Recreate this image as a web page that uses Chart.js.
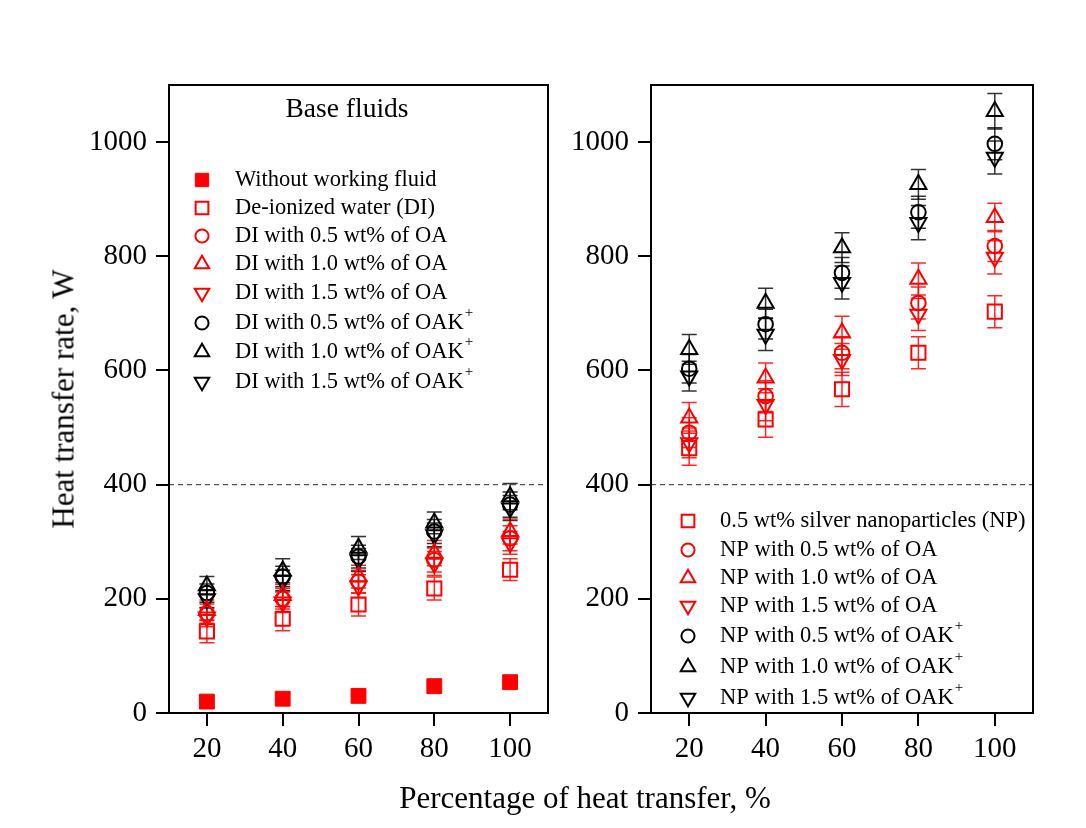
<!DOCTYPE html>
<html><head><meta charset="utf-8">
<script src="https://cdn.jsdelivr.net/npm/chart.js@4.4.0/dist/chart.umd.min.js"></script>
<style>
html,body{margin:0;padding:0;background:#fff;width:1086px;height:828px;overflow:hidden;position:relative;}
canvas{position:absolute;top:0;}
#c1{left:0;}
#c2{left:560px;}
.t{position:absolute;font-family:"Liberation Serif","Times New Roman",serif;color:#000;white-space:nowrap;font-size:31px;line-height:1;}
#xt{left:585px;top:797px;transform:translate(-50%,-50%);}
#yt{left:63px;top:399px;transform:translate(-50%,-50%) rotate(-90deg);}
</style></head><body>
<canvas id="c1" width="560" height="828"></canvas>
<canvas id="c2" width="526" height="828"></canvas>
<div class="t" id="xt">Percentage of heat transfer, %</div>
<div class="t" id="yt">Heat transfer rate, W</div>
<script>
// ---------- data ----------
const xValues = [20, 40, 60, 80, 100];
const xTicks = [20, 40, 60, 80, 100];
const yTicks = [0, 200, 400, 600, 800, 1000];
const referenceLine = 400;

// Left panel: base fluids
const withoutFluid = [20, 25, 30, 47, 54];
const diWater      = [143, 165, 190, 218, 251];
const diOA05       = [174, 200, 230, 268, 306];
const diOA10       = [180, 206, 239, 280, 318];
const diOA15       = [168, 194, 222, 262, 298];
const diOAK05      = [210, 239, 274, 318, 365];
const diOAK10      = [223, 249, 289, 333, 379];
const diOAK15      = [200, 232, 268, 312, 359];
const errDiWater   = [20, 21, 20, 20, 19];
const errDiOA05    = [17, 18, 20, 21, 22];
const errDiOA10    = [18, 19, 20, 22, 22];
const errDiOA15    = [17, 18, 20, 21, 20];
const errDiOAK05   = [16, 18, 20, 21, 22];
const errDiOAK10   = [16, 21, 20, 19, 23];
const errDiOAK15   = [16, 18, 20, 21, 22];

// Right panel: silver nanoparticles
const np       = [464, 514, 567, 631, 703];
const npOA05   = [491, 555, 631, 718, 818];
const npOA10   = [517, 587, 666, 760, 868];
const npOA15   = [473, 540, 619, 698, 798];
const npOAK05  = [603, 681, 771, 877, 997];
const npOAK10  = [637, 718, 815, 926, 1054];
const npOAK15  = [590, 663, 754, 859, 973];
const errNp      = [30, 31, 30, 28, 28];
const errNpOA05  = [26, 27, 28, 28, 27];
const errNpOA10  = [27, 26, 29, 28, 25];
const errNpOA15  = [26, 28, 28, 28, 29];
const errNpOAK05 = [25, 26, 27, 28, 28];
const errNpOAK10 = [26, 26, 26, 26, 31];
const errNpOAK15 = [26, 28, 29, 30, 29];

const leftLabels = ["Without working fluid", "De-ionized water (DI)", "DI with 0.5 wt% of OA",
  "DI with 1.0 wt% of OA", "DI with 1.5 wt% of OA", "DI with 0.5 wt% of OAK⁺",
  "DI with 1.0 wt% of OAK⁺", "DI with 1.5 wt% of OAK⁺"];
const rightLabels = ["0.5 wt% silver nanoparticles (NP)", "NP with 0.5 wt% of OA",
  "NP with 1.0 wt% of OA", "NP with 1.5 wt% of OA", "NP with 0.5 wt% of OAK⁺",
  "NP with 1.0 wt% of OAK⁺", "NP with 1.5 wt% of OAK⁺"];
const leftTitle = "Base fluids";

// ---------- styling ----------
const FONT = "'Liberation Serif','Times New Roman',serif";
const RED = '#ff0000', BLACK = '#000000';
const SHAPES = {
  fsquare: {pointStyle:'rect', radius:10.5, rotation:0, filled:true},
  square:  {pointStyle:'rect', radius:10, rotation:0, filled:false},
  circle:  {pointStyle:'circle', radius:7.3, rotation:0, filled:false},
  up:      {pointStyle:'triangle', radius:9.3, rotation:0, filled:false},
  down:    {pointStyle:'triangle', radius:9.3, rotation:180, filled:false}
};

function series(label, values, errors, color, shape) {
  const s = SHAPES[shape];
  return {
    type:'scatter', label,
    data: xValues.map((x, i) => ({x, y: values[i]})),
    errors, errorColor: color === RED ? 'rgba(255,0,0,0.85)' : 'rgba(0,0,0,0.8)',
    pointStyle: s.pointStyle, pointRadius: s.radius, pointRotation: s.rotation,
    pointBorderColor: color, pointBackgroundColor: s.filled ? color : 'rgba(0,0,0,0)',
    pointBorderWidth: s.filled ? 1 : 2, showLine:false, inLegend:true,
    shape, color
  };
}
function refLine() {
  return {type:'line', label:'ref', data:[{x:10,y:referenceLine},{x:110,y:referenceLine}],
    borderColor:'#555', borderWidth:1.3, borderDash:[5,4], pointRadius:0, inLegend:false, order:100};
}

function drawMarker(ctx, shape, color, x, y, scale) {
  const s = SHAPES[shape];
  const r = s.radius * scale;
  ctx.save();
  ctx.strokeStyle = color; ctx.fillStyle = color; ctx.lineWidth = s.filled ? 1 : 2;
  ctx.beginPath();
  if (s.pointStyle === 'rect') {
    const h = Math.SQRT1_2 * r;
    ctx.rect(x - h, y - h, 2*h, 2*h);
  } else if (s.pointStyle === 'circle') {
    ctx.arc(x, y, r, 0, Math.PI*2);
  } else {
    let rad = s.rotation * Math.PI / 180;
    for (let k = 0; k < 3; k++) {
      const px = x + Math.sin(rad) * r, py = y - Math.cos(rad) * r;
      if (k === 0) ctx.moveTo(px, py); else ctx.lineTo(px, py);
      rad += 2*Math.PI/3;
    }
    ctx.closePath();
  }
  if (s.filled) ctx.fill();
  ctx.stroke();
  ctx.restore();
}

const errorBarPlugin = {
  id:'errorBars',
  beforeDatasetsDraw(chart) {
    const {ctx, scales:{x, y}} = chart;
    chart.data.datasets.forEach(ds => {
      if (!ds.errors) return;
      ctx.save();
      ctx.strokeStyle = ds.errorColor; ctx.lineWidth = 1.5;
      ds.data.forEach((p, j) => {
        const e = ds.errors[j]; if (!e) return;
        const px = x.getPixelForValue(p.x);
        const top = y.getPixelForValue(p.y + e), bot = y.getPixelForValue(p.y - e);
        ctx.beginPath();
        ctx.moveTo(px, top); ctx.lineTo(px, bot);
        ctx.moveTo(px - 7.5, top); ctx.lineTo(px + 7.5, top);
        ctx.moveTo(px - 7.5, bot); ctx.lineTo(px + 7.5, bot);
        ctx.stroke();
      });
      ctx.restore();
    });
  }
};

const framePlugin = {
  id:'frame',
  afterDraw(chart) {
    const {ctx, chartArea:a} = chart;
    ctx.save(); ctx.strokeStyle = '#000'; ctx.lineWidth = 2;
    ctx.strokeRect(a.left, a.top, a.right - a.left, a.bottom - a.top);
    ctx.restore();
  }
};

const legendPlugin = {
  id:'panelLegend',
  afterDraw(chart, args, opts) {
    const ctx = chart.ctx;
    ctx.save();
    ctx.fillStyle = '#000';
    if (opts.title) {
      ctx.font = `27.5px ${FONT}`; ctx.textAlign = 'center'; ctx.textBaseline = 'middle';
      ctx.fillText(opts.title, opts.titleX, opts.titleY);
    }
    const items = chart.data.datasets.filter(d => d.inLegend);
    items.forEach((ds, i) => {
      const y = opts.rows[i];
      drawMarker(ctx, ds.shape, ds.color, opts.markerX, y, 0.9);
      ctx.fillStyle = '#000';
      ctx.textAlign = 'left'; ctx.textBaseline = 'middle';
      ctx.font = `22.5px ${FONT}`;
      let txt = ds.label, sup = '';
      if (txt.endsWith('⁺')) { txt = txt.slice(0, -1); sup = '+'; }
      ctx.fillText(txt, opts.textX, y);
      if (sup) {
        const w = ctx.measureText(txt).width;
        ctx.font = `15px ${FONT}`;
        ctx.fillText(sup, opts.textX + w + 1, y - 10);
      }
    });
    ctx.restore();
  }
};

function baseOptions(yWidth, padRight, legendOpts) {
  return {
    responsive:false, animation:false, devicePixelRatio:1,
    layout:{padding:{left:0, right:padRight, top:85, bottom:45}},
    plugins:{legend:{display:false}, tooltip:{enabled:false}, panelLegend: legendOpts},
    scales:{
      x:{type:'linear', min:10, max:110,
        afterBuildTicks: s => { s.ticks = xTicks.map(v => ({value:v})); },
        afterFit: s => { s.height = 70; },
        grid:{drawOnChartArea:false, drawTicks:true, tickLength:13, color:'#000', lineWidth:2},
        border:{display:true, color:'#000', width:2},
        ticks:{font:{family:FONT, size:29}, color:'#000', padding:6, maxRotation:0, autoSkip:false,
          callback: v => String(v)}},
      y:{type:'linear', min:0, max:1100,
        afterBuildTicks: s => { s.ticks = yTicks.map(v => ({value:v})); },
        afterFit: s => { s.width = yWidth; },
        grid:{drawOnChartArea:false, drawTicks:true, tickLength:13, color:'#000', lineWidth:2},
        border:{display:true, color:'#000', width:2},
        ticks:{font:{family:FONT, size:29}, color:'#000', padding:9, autoSkip:false,
          callback: v => String(v)}}
    }
  };
}

new Chart(document.getElementById('c1'), {
  data:{datasets:[
    series(leftLabels[0], withoutFluid, null, RED, 'fsquare'),
    series(leftLabels[1], diWater, errDiWater, RED, 'square'),
    series(leftLabels[2], diOA05, errDiOA05, RED, 'circle'),
    series(leftLabels[3], diOA10, errDiOA10, RED, 'up'),
    series(leftLabels[4], diOA15, errDiOA15, RED, 'down'),
    series(leftLabels[5], diOAK05, errDiOAK05, BLACK, 'circle'),
    series(leftLabels[6], diOAK10, errDiOAK10, BLACK, 'up'),
    series(leftLabels[7], diOAK15, errDiOAK15, BLACK, 'down'),
    refLine()
  ]},
  options: baseOptions(169, 10, {title:leftTitle, titleX:347, titleY:110, markerX:202, textX:235,
    rows:[180, 208, 236, 264, 293, 323, 352, 382]}),
  plugins:[errorBarPlugin, framePlugin, legendPlugin]
});

new Chart(document.getElementById('c2'), {
  data:{datasets:[
    series(rightLabels[0], np, errNp, RED, 'square'),
    series(rightLabels[1], npOA05, errNpOA05, RED, 'circle'),
    series(rightLabels[2], npOA10, errNpOA10, RED, 'up'),
    series(rightLabels[3], npOA15, errNpOA15, RED, 'down'),
    series(rightLabels[4], npOAK05, errNpOAK05, BLACK, 'circle'),
    series(rightLabels[5], npOAK10, errNpOAK10, BLACK, 'up'),
    series(rightLabels[6], npOAK15, errNpOAK15, BLACK, 'down'),
    refLine()
  ]},
  options: baseOptions(91, 53, {title:null, markerX:128, textX:160,
    rows:[521, 550, 578, 606, 636, 667, 698]}),
  plugins:[errorBarPlugin, framePlugin, legendPlugin]
});
</script>
</body></html>
